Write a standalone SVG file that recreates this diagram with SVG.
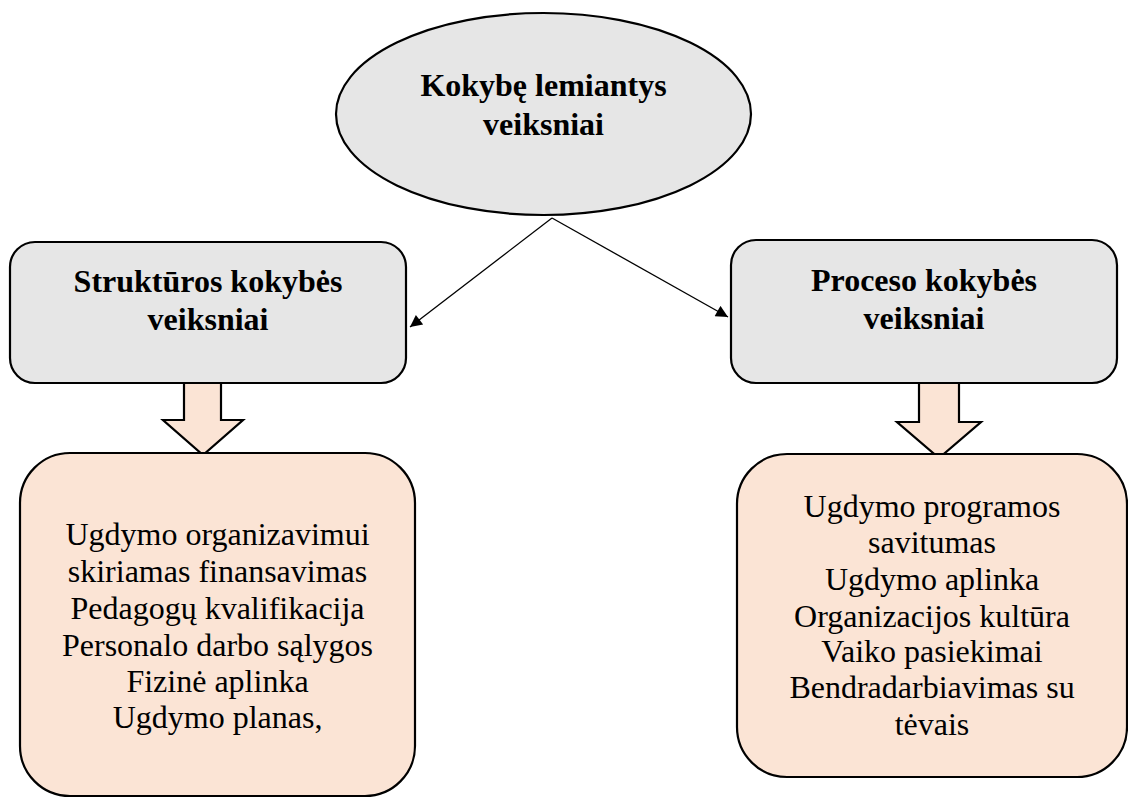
<svg xmlns="http://www.w3.org/2000/svg" width="1128" height="798" viewBox="0 0 1128 798">
  <style>
    .head { fill: #e6e6e6; stroke: #000; stroke-width: 2.2; }
    .body { fill: #fbe4d5; stroke: #000; stroke-width: 2.2; }
    text { font-family: 'Liberation Serif', 'DejaVu Serif', serif; font-size: 32px; fill: #000; text-anchor: middle; }
    .bold { font-weight: bold; }
    .link { stroke: #000; stroke-width: 1.3; fill: none; marker-end: url(#tip); }
  </style>
  <defs>
    <marker id="tip" viewBox="0 0 10 10" refX="10" refY="5" markerWidth="14" markerHeight="12" markerUnits="userSpaceOnUse" orient="auto">
      <path d="M0,0 L10,5 L0,10 z" fill="#000"/>
    </marker>
  </defs>

  <g id="root">
    <ellipse class="head" cx="543.5" cy="114" rx="207.5" ry="101"/>
    <text class="bold" x="543.5" y="96">Kokybę lemiantys</text>
    <text class="bold" x="543.5" y="135">veiksniai</text>
  </g>

  <g id="connectors">
    <line class="link" x1="552" y1="218" x2="410" y2="327"/>
    <line class="link" x1="552" y1="218" x2="728" y2="317"/>
  </g>

  <g id="structure">
    <rect class="head" x="10" y="242" width="396" height="141" rx="25"/>
    <text class="bold" x="208" y="292">Struktūros kokybės</text>
    <text class="bold" x="208" y="330">veiksniai</text>
  </g>

  <g id="process">
    <rect class="head" x="731" y="240" width="386" height="143" rx="25"/>
    <text class="bold" x="924" y="291">Proceso kokybės</text>
    <text class="bold" x="924" y="329">veiksniai</text>
  </g>

  <g id="structure-arrow">
    <polygon class="body" points="184,383 221,383 221,420 243,420 203,455 163,420 184,420"/>
  </g>

  <g id="process-arrow">
    <polygon class="body" points="919,383 959,383 959,422 981,422 939,458 897,422 919,422"/>
  </g>

  <g id="structure-items">
    <rect class="body" x="20" y="453" width="395" height="343" rx="50"/>
    <text x="217.5" y="545">Ugdymo organizavimui</text>
    <text x="217.5" y="582">skiriamas finansavimas</text>
    <text x="217.5" y="619">Pedagogų kvalifikacija</text>
    <text x="217.5" y="656">Personalo darbo sąlygos</text>
    <text x="217.5" y="692">Fizinė aplinka</text>
    <text x="217.5" y="728">Ugdymo planas,</text>
  </g>

  <g id="process-items">
    <rect class="body" x="737" y="454" width="390" height="323" rx="50"/>
    <text x="932" y="517">Ugdymo programos</text>
    <text x="932" y="553">savitumas</text>
    <text x="932" y="590">Ugdymo aplinka</text>
    <text x="932" y="627">Organizacijos kultūra</text>
    <text x="932" y="662">Vaiko pasiekimai</text>
    <text x="932" y="698">Bendradarbiavimas su</text>
    <text x="932" y="735">tėvais</text>
  </g>
</svg>
